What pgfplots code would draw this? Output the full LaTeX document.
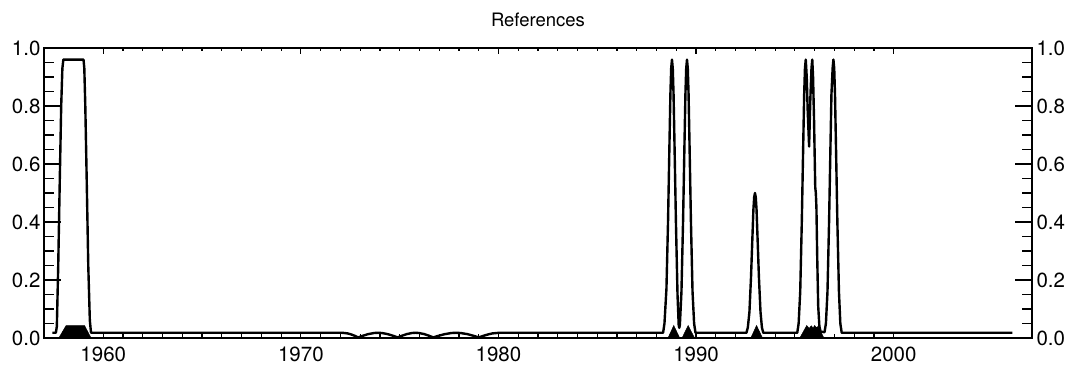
\documentclass[border=0pt]{standalone}
\usepackage{fontspec}
\setmainfont{TeX Gyre Heros}
\usepackage{pgfplots}
\pgfplotsset{compat=1.18}
\usetikzlibrary{calc}
\begin{document}
\begin{tikzpicture}
\pgfplotsset{
  base/.style={
    width=988pt, height=290pt, scale only axis,
    xmin=1957, xmax=2007, ymin=0, ymax=1,
    axis line style={line width=1.5pt},
    tick style={line width=1.2pt, black},
    tick align=inside,
    font=\fontsize{20.5}{24}\selectfont,
    /pgf/number format/assume math mode=true,
  },
}
% Axis 1: data + x ticks
\begin{axis}[base,
  xtick={1960,1970,1980,1990,2000},
  minor x tick num=9,
  xtick pos=both, xticklabel pos=bottom,
  ytick=\empty,
  major tick length=6pt, minor tick length=3.5pt,
  xticklabel style={/pgf/number format/1000 sep={}, yshift=-5pt},
  title={References},
  title style={font=\fontsize{18.5}{22}\selectfont, yshift=12pt},
]
% black filled markers at the bottom
\addplot[fill=black, draw=black, line width=0.5pt] coordinates {
(1957.75,0) (1958.12,0.043) (1959.05,0.043) (1959.38,0)
(1988.58,0) (1988.87,0.043) (1989.17,0)
(1989.29,0) (1989.6,0.043) (1989.92,0)
(1992.77,0) (1993.06,0.043) (1993.36,0)
(1995.25,0) (1995.6,0.043) (1995.72,0.033) (1995.83,0.042) (1995.92,0.034)
(1996.0,0.043) (1996.09,0.035) (1996.17,0.04) (1996.47,0)
} -- cycle;
% main curve
\addplot[black, line width=2.4pt, line join=round] coordinates {
(1957.42,0.018) (1957.6,0.018) (1957.65,0.04) (1957.72,0.25) (1957.8,0.55)
(1957.87,0.8) (1957.93,0.93) (1957.98,0.96) (1959.0,0.96) (1959.04,0.93)
(1959.09,0.8) (1959.16,0.55) (1959.24,0.25) (1959.32,0.06) (1959.38,0.018)
(1972.1,0.018) (1972.36,0.0159) (1972.5,0.0133) (1972.64,0.0099) (1972.77,0.0062) (1972.9,0.002)
(1973.1,0.0069) (1973.4,0.0133) (1973.7,0.0172) (1973.9,0.018) (1974.1,0.0172) (1974.4,0.0133) (1974.7,0.0069) (1974.9,0.002)
(1975.08,0.0069) (1975.35,0.0133) (1975.62,0.0172) (1975.8,0.018) (1975.98,0.0172) (1976.25,0.0133) (1976.52,0.0069) (1976.7,0.002)
(1976.93,0.0069) (1977.28,0.0133) (1977.62,0.0172) (1977.85,0.018) (1978.08,0.0172) (1978.43,0.0133) (1978.77,0.0069) (1979.0,0.002)
(1979.18,0.0062) (1979.35,0.0099) (1979.53,0.0133) (1979.7,0.0159) (1980.05,0.018)
(1988.33,0.018) (1988.4,0.05) (1988.5,0.17) (1988.58,0.4) (1988.65,0.66) (1988.7,0.84)
(1988.74,0.93) (1988.78,0.96) (1988.82,0.93) (1988.86,0.84) (1988.91,0.66) (1988.98,0.4)
(1989.06,0.15) (1989.12,0.045) (1989.15,0.035) (1989.18,0.045)
(1989.26,0.16) (1989.34,0.4) (1989.41,0.66) (1989.46,0.84) (1989.50,0.93) (1989.54,0.96)
(1989.58,0.93) (1989.62,0.84) (1989.67,0.66) (1989.74,0.4) (1989.82,0.16) (1989.9,0.05) (1989.97,0.018)
(1992.55,0.018) (1992.62,0.037) (1992.7,0.09) (1992.78,0.21) (1992.85,0.346) (1992.9,0.442)
(1992.94,0.486) (1992.98,0.50) (1993.02,0.486) (1993.06,0.442) (1993.11,0.346) (1993.18,0.21)
(1993.26,0.09) (1993.33,0.037) (1993.4,0.018)
(1995.12,0.018) (1995.19,0.05) (1995.27,0.16) (1995.35,0.4) (1995.42,0.66) (1995.47,0.84)
(1995.51,0.93) (1995.55,0.96) (1995.6,0.9) (1995.65,0.78) (1995.72,0.66) (1995.78,0.82)
(1995.84,0.93) (1995.88,0.96) (1995.92,0.9) (1995.97,0.75) (1996.03,0.52) (1996.06,0.5)
(1996.09,0.45) (1996.13,0.28) (1996.18,0.11) (1996.24,0.04) (1996.3,0.022) (1996.5,0.02)
(1996.57,0.05) (1996.65,0.16) (1996.73,0.4) (1996.8,0.66) (1996.85,0.84) (1996.91,0.93)
(1996.95,0.96) (1996.99,0.93) (1997.03,0.84) (1997.08,0.66) (1997.15,0.4) (1997.23,0.16)
(1997.3,0.05) (1997.37,0.018) (2006.0,0.018)
};
\end{axis}
% Axis 2: left y ticks and labels, y ticks on both sides
\begin{axis}[base,
  hide x axis,
  ytick={0,0.2,0.4,0.6,0.8,1},
  minor y tick num=3,
  ytick pos=both, yticklabel pos=left,
  major tick length=17pt, minor tick length=10pt,
  yticklabel style={/pgf/number format/fixed, /pgf/number format/fixed zerofill, /pgf/number format/precision=1},
]
\addplot[draw=none] coordinates {(1960,0.5)};
\end{axis}
% Axis 3: right y labels
\begin{axis}[base,
  hide x axis,
  ytick={0,0.2,0.4,0.6,0.8,1},
  ytick pos=right, yticklabel pos=right,
  major tick length=0pt,
  yticklabel style={/pgf/number format/fixed, /pgf/number format/fixed zerofill, /pgf/number format/precision=1, xshift=1pt},
]
\addplot[draw=none] coordinates {(1960,0.5)};
\end{axis}
\path ($(current axis.south west)+(-44pt,-34pt)$) rectangle ($(current axis.north east)+(39pt,48pt)$);
\end{tikzpicture}
\end{document}
